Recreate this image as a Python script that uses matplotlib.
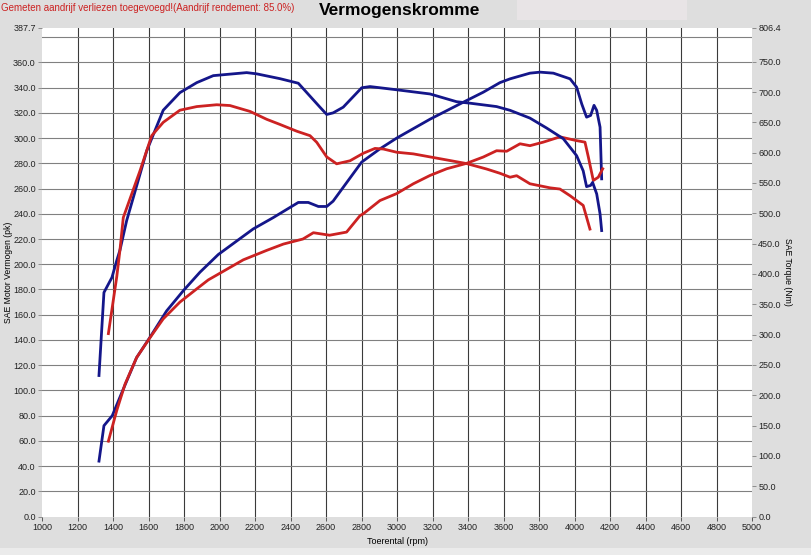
import matplotlib
matplotlib.use("Agg")
import matplotlib.pyplot as plt
from matplotlib.patches import Rectangle

# ============================================================
# DATA (read from the dyno sheet)
# ============================================================

rpm_blue_pk = [1321, 1349, 1396, 1458, 1533, 1608, 1702, 1796, 1890, 1993, 2190, 2303,
               2444, 2500, 2557, 2604, 2640, 2697, 2801, 2904, 2998, 3186, 3374, 3486,
               3580, 3637, 3749, 3806, 3881, 3975, 4012, 4041, 4068, 4091, 4110, 4125,
               4144, 4153]
blue_pk = [43.9, 72.0, 80.0, 101.0, 126.0, 142.0, 163.0, 179.0, 193.7, 207.7, 228.0, 237.0,
           249.0, 249.0, 245.8, 245.8, 250.0, 261.0, 281.0, 291.5, 300.0, 315.0, 328.5, 336.4,
           344.0, 347.0, 351.5, 352.3, 351.5, 347.0, 340.4, 327.0, 316.6, 318.0, 326.0, 322.0,
           308.7, 267.7]

rpm_blue_nm = [1321, 1349, 1394, 1421, 1439, 1477, 1590, 1683, 1777, 1872, 1965, 2153,
               2209, 2341, 2444, 2566, 2604, 2640, 2697, 2801, 2848, 2998, 3186, 3336,
               3411, 3561, 3637, 3749, 3843, 3937, 4012, 4049, 4068, 4091, 4102, 4125,
               4144, 4153]
blue_nm = [232.5, 369.4, 394.2, 422.0, 439.0, 488.0, 603.0, 670.0, 699.0, 715.5, 727.0, 732.0,
           730.0, 722.0, 714.5, 675.0, 663.0, 665.6, 675.0, 707.0, 709.0, 703.7, 696.8, 684.0,
           681.6, 676.0, 669.8, 657.0, 640.6, 623.0, 595.0, 570.0, 544.0, 546.0, 551.0, 532.0,
           499.0, 471.5]

rpm_red_pk = [1374, 1421, 1468, 1533, 1608, 1683, 1777, 1872, 1937, 2134, 2266, 2360,
              2470, 2529, 2620, 2716, 2792, 2810, 2904, 2998, 3092, 3186, 3280, 3392,
              3486, 3561, 3618, 3693, 3749, 3824, 3918, 4012, 4059, 4078, 4106, 4134,
              4159]
red_pk = [59.7, 84.0, 105.0, 126.0, 141.7, 156.7, 170.0, 180.5, 187.6, 203.5, 211.0, 216.0,
          220.0, 225.0, 223.0, 225.5, 238.6, 240.0, 250.5, 256.0, 263.8, 270.4, 275.7, 280.0,
          285.0, 290.0, 289.6, 295.5, 294.0, 296.8, 301.0, 298.0, 296.8, 285.0, 266.4, 269.0,
          275.7]

rpm_red_nm = [1374, 1421, 1439, 1458, 1552, 1618, 1683, 1777, 1872, 1984, 2059, 2172,
              2266, 2341, 2435, 2510, 2548, 2604, 2660, 2735, 2810, 2876, 2923, 2998,
              3092, 3186, 3280, 3392, 3505, 3580, 3637, 3674, 3749, 3862, 3918, 3975,
              4049, 4087]
red_nm = [301.6, 395.0, 439.0, 493.0, 570.0, 628.0, 650.0, 670.0, 676.0, 679.0, 677.7, 668.0,
          655.0, 646.5, 635.4, 628.0, 617.0, 593.0, 581.6, 586.6, 599.0, 607.0, 606.0, 600.7,
          598.0, 593.0, 588.0, 582.0, 573.0, 566.0, 559.5, 562.0, 548.7, 542.0, 540.0, 529.0,
          513.0, 474.0]

x_ticks = list(range(1000, 5001, 200))
pk_ticks = [0, 20, 40, 60, 80, 100, 120, 140, 160, 180, 200, 220, 240, 260, 280, 300,
            320, 340, 360, 387.7]
nm_ticks = [0, 50, 100, 150, 200, 250, 300, 350, 400, 450, 500, 550, 600, 650, 700, 750, 806.4]

# ============================================================
# PLOT
# ============================================================

plt.rcParams['font.family'] = ['Liberation Sans', 'DejaVu Sans']

blauw = "#14168a"
rood = "#cc2222"

fig = plt.figure(figsize=(8.11, 5.55), dpi=100)
fig.patch.set_facecolor("#dedede")
W, H = 811, 555

# lichtere strook onderaan en vak bovenaan
fig.patches.append(Rectangle((0, 0), 1, 7 / H, transform=fig.transFigure,
                             facecolor="#ebebeb", edgecolor="none", zorder=0))
fig.patches.append(Rectangle((517 / W, 1 - 20 / H), 170 / W, 20 / H, transform=fig.transFigure,
                             facecolor="#e8e4e6", edgecolor="none", zorder=0))

ax = fig.add_axes([42 / W, 1 - 516.5 / H, 710 / W, 489 / H])
ax.set_facecolor("white")
ax.set_xlim(1000, 5000)
ax.set_ylim(0, 387.7)

# raster
for x in x_ticks[1:-1]:
    ax.axvline(x, color="#3a3a3a", lw=0.8, zorder=1)
for y in list(range(20, 381, 20)):
    ax.axhline(y, color="#808080", lw=0.8, zorder=1)

ax2 = ax.twinx()
ax2.set_ylim(0, 806.4)

ax.plot(rpm_blue_pk, blue_pk, color=blauw, lw=2.0, zorder=3)
ax2.plot(rpm_blue_nm, blue_nm, color=blauw, lw=2.0, zorder=3)
ax.plot(rpm_red_pk, red_pk, color=rood, lw=2.0, zorder=4)
ax2.plot(rpm_red_nm, red_nm, color=rood, lw=2.0, zorder=4)

for a in (ax, ax2):
    for s in a.spines.values():
        s.set_visible(False)

ax.set_xticks(x_ticks)
ax.set_xticklabels([str(x) for x in x_ticks])
ax.set_yticks(pk_ticks)
ax.set_yticklabels(["%.1f" % v for v in pk_ticks])
ax2.set_yticks(nm_ticks)
ax2.set_yticklabels(["%.1f" % v for v in nm_ticks])

ax.tick_params(axis="both", labelsize=6.5, colors="#222222", length=3, width=0.6, pad=1.5)
ax.tick_params(axis="y", color="#808080")
ax.tick_params(axis="x", color="#404040")
ax2.tick_params(axis="y", labelsize=6.5, colors="#222222", color="#808080", length=3,
                width=0.6, pad=1.5)

ax.set_xlabel("Toerental (rpm)", fontsize=6.5, labelpad=4)
ax.set_ylabel("SAE Motor Vermogen (pk)", fontsize=6.2, labelpad=0)
ax2.set_ylabel("SAE Torque (Nm)", fontsize=6.2, rotation=270, labelpad=8)

fig.text(400 / W, 1 - 10 / H, "Vermogenskromme", fontsize=12.5, fontweight="bold",
         ha="center", va="center")
fig.text(1 / W, 1 - 8 / H, "Gemeten aandrijf verliezen toegevoegd!(Aandrijf rendement: 85.0%)",
         fontsize=7.0, color=rood, ha="left", va="center")

fig.savefig("out.png", dpi=100, facecolor=fig.get_facecolor())
